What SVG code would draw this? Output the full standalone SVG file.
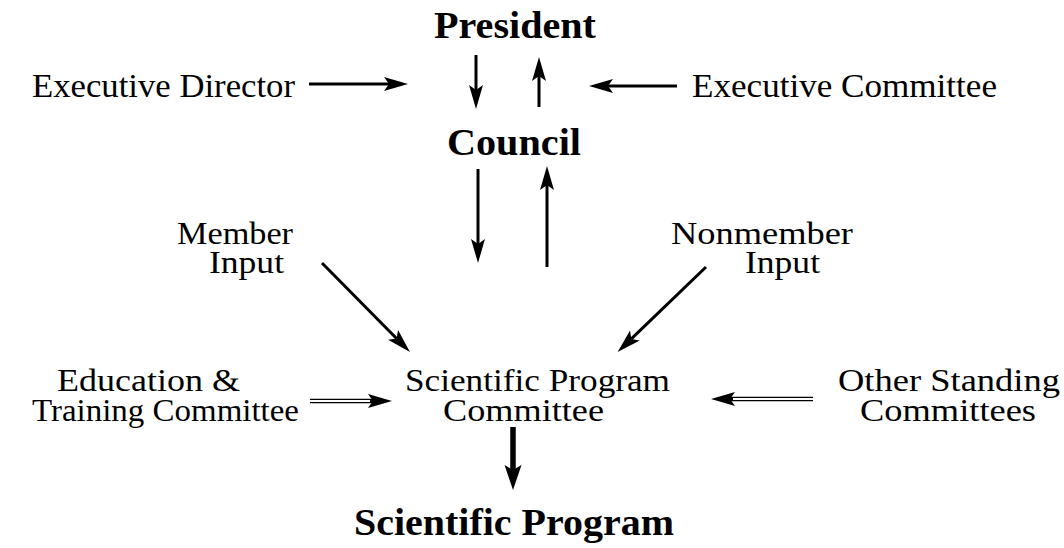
<svg xmlns="http://www.w3.org/2000/svg" width="1064" height="548" viewBox="0 0 1064 548">
  <style>
    text { font-family: "Liberation Serif", "Times New Roman", serif; fill: #000; }
    .title { font-size: 38px; font-weight: bold; }
    .label { font-size: 34px; }
    .pair { font-size: 31px; }
    .arrow { stroke: #000; stroke-width: 3; fill: none; marker-end: url(#head); }
    .thick { stroke: #000; stroke-width: 5.5; fill: none; marker-end: url(#bighead); }
    .double { stroke: #000; stroke-width: 4.5; fill: none; marker-end: url(#head); }
    .double-core { stroke: #fff; stroke-width: 1.8; fill: none; }
  </style>
  <defs>
    <marker id="head" markerUnits="userSpaceOnUse" markerWidth="30" markerHeight="20" viewBox="0 -10 30 20" refX="5" refY="0" orient="auto">
      <path d="M0,-7 L24,0 L0,7 L5,0 Z" fill="#000"/>
    </marker>
    <marker id="bighead" markerUnits="userSpaceOnUse" markerWidth="30" markerHeight="24" viewBox="0 -12 30 24" refX="5" refY="0" orient="auto">
      <path d="M0,-8.5 L25,0 L0,8.5 L5,0 Z" fill="#000"/>
    </marker>
  </defs>
  <rect width="1064" height="548" fill="#fff"/>

  <g id="connectors">
    <line class="arrow" x1="309" y1="84" x2="389" y2="84"/>
    <line class="arrow" x1="476" y1="55" x2="476" y2="90"/>
    <line class="arrow" x1="539" y1="107" x2="539" y2="76"/>
    <line class="arrow" x1="677" y1="86" x2="608" y2="86"/>
    <line class="arrow" x1="478" y1="169" x2="478" y2="244"/>
    <line class="arrow" x1="547" y1="267" x2="547" y2="185"/>
    <line class="arrow" x1="322" y1="263" x2="396.6" y2="338.5"/>
    <line class="arrow" x1="706" y1="267" x2="631.3" y2="338.9"/>
    <line class="double" x1="310" y1="401" x2="373" y2="401"/>
    <line class="double-core" x1="310" y1="401" x2="370" y2="401"/>
    <line class="double" x1="813" y1="399" x2="730" y2="399"/>
    <line class="double-core" x1="813" y1="399" x2="733" y2="399"/>
    <line class="thick" x1="513" y1="427" x2="513" y2="470"/>
  </g>

  <g id="president"><text class="title" x="434" y="38" textLength="162" lengthAdjust="spacingAndGlyphs">President</text></g>
  <g id="executive-director"><text class="label" x="32" y="97" textLength="263" lengthAdjust="spacingAndGlyphs">Executive Director</text></g>
  <g id="executive-committee"><text class="label" x="692" y="97" textLength="305" lengthAdjust="spacingAndGlyphs">Executive Committee</text></g>
  <g id="council"><text class="title" x="447" y="155" textLength="134" lengthAdjust="spacingAndGlyphs">Council</text></g>
  <g id="member-input">
    <text class="pair" x="177" y="244" textLength="116" lengthAdjust="spacingAndGlyphs">Member</text>
    <text class="pair" x="209" y="273" textLength="75" lengthAdjust="spacingAndGlyphs">Input</text>
  </g>
  <g id="nonmember-input">
    <text class="pair" x="671" y="244" textLength="182" lengthAdjust="spacingAndGlyphs">Nonmember</text>
    <text class="pair" x="745" y="273" textLength="75" lengthAdjust="spacingAndGlyphs">Input</text>
  </g>
  <g id="education-training">
    <text class="pair" x="57" y="391" textLength="183" lengthAdjust="spacingAndGlyphs">Education &amp;</text>
    <text class="pair" x="32" y="421" textLength="267" lengthAdjust="spacingAndGlyphs">Training Committee</text>
  </g>
  <g id="scientific-program-committee">
    <text class="pair" x="405" y="391" textLength="265" lengthAdjust="spacingAndGlyphs">Scientific Program</text>
    <text class="pair" x="443" y="421" textLength="161" lengthAdjust="spacingAndGlyphs">Committee</text>
  </g>
  <g id="other-standing">
    <text class="pair" x="838" y="391" textLength="222" lengthAdjust="spacingAndGlyphs">Other Standing</text>
    <text class="pair" x="860" y="421" textLength="176" lengthAdjust="spacingAndGlyphs">Committees</text>
  </g>
  <g id="scientific-program"><text class="title" x="354" y="535" textLength="320" lengthAdjust="spacingAndGlyphs">Scientific Program</text></g>
</svg>
